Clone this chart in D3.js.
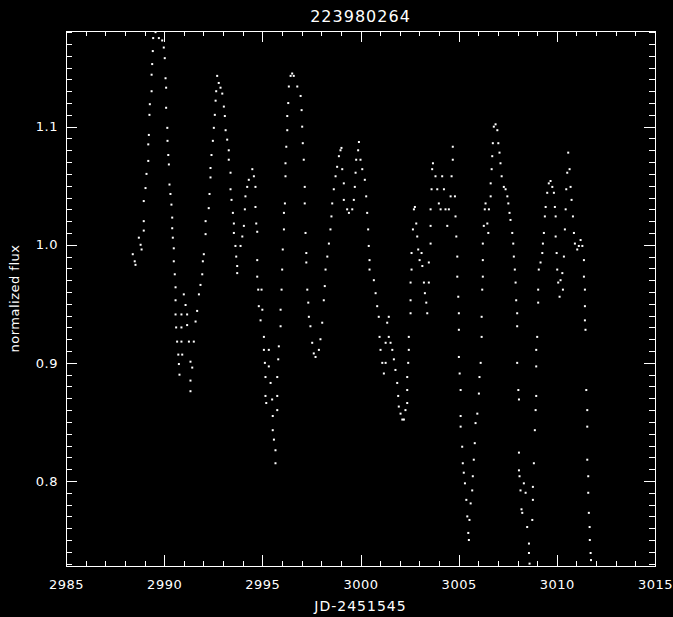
<!DOCTYPE html>
<html>
<head>
<meta charset="utf-8">
<script src="https://cdn.jsdelivr.net/npm/d3@7"></script>
<style>
  body { margin: 0; background: #000; }
  svg { display: block; }
  text { font-family: "DejaVu Sans", sans-serif; fill: #fff; }
</style>
</head>
<body>
<svg id="chart-area"></svg>
<script>
// light curve, split by cycles: [JD-2451545, normalized flux]
const seg1 = [[2988.40,0.992],[2988.50,0.986],[2988.54,0.983],[2988.71,1.006],[2988.80,1.000],[2988.85,0.996],[2988.96,1.012],[2988.96,1.020],[2988.96,1.037],[2989.05,1.048],[2989.10,1.060],[2989.19,1.071],[2989.19,1.085],[2989.22,1.093],[2989.25,1.110],[2989.27,1.119],[2989.36,1.130],[2989.36,1.144],[2989.39,1.153],[2989.42,1.164],[2989.44,1.175],[2989.56,1.180],[2989.73,1.175],[2989.90,1.173]]
const seg2 = [[2989.98,1.167],[2990.03,1.158],[2990.07,1.141],[2990.10,1.133],[2990.10,1.116],[2990.16,1.099],[2990.17,1.088],[2990.21,1.076],[2990.24,1.068],[2990.27,1.051],[2990.32,1.043],[2990.37,1.034],[2990.41,1.023],[2990.41,1.014],[2990.44,1.006],[2990.49,0.997],[2990.49,0.986],[2990.54,0.975],[2990.58,0.964],[2990.58,0.953],[2990.58,0.941],[2990.61,0.930],[2990.66,0.918],[2990.72,0.907],[2990.75,0.899],[2990.78,0.890],
  [2990.88,0.941],[2990.88,0.930],[2990.88,0.918],[2990.92,0.907],[2991.00,0.958],[2991.09,0.949],[2991.17,0.941],[2991.17,0.932],[2991.26,0.918],[2991.34,0.901],[2991.34,0.885],[2991.34,0.876]]
const seg3 = [[2991.43,0.896],[2991.51,0.918],[2991.60,0.935],[2991.68,0.944],[2991.77,0.958],[2991.85,0.966],[2991.94,0.975],[2991.97,0.986],[2992.02,0.992],[2992.11,1.009],[2992.11,1.020],[2992.27,1.031],[2992.31,1.043],[2992.36,1.057],[2992.36,1.065],[2992.41,1.076],[2992.48,1.088],[2992.53,1.099],[2992.58,1.110],[2992.62,1.122],[2992.65,1.130],[2992.70,1.143],[2992.78,1.137],[2992.87,1.133],[2992.96,1.128],[2993.04,1.117],[2993.09,1.109],[2993.13,1.097],[2993.21,1.089],[2993.29,1.080],[2993.29,1.072],[2993.38,1.061],[2993.38,1.047],[2993.43,1.038],[2993.50,1.027],[2993.55,1.018],[2993.55,1.010],[2993.63,0.999],[2993.67,0.990],[2993.72,0.982],[2993.72,0.976]]
const seg4 = [[2993.89,0.999],[2993.98,1.007],[2994.06,1.016],[2994.11,1.030],[2994.14,1.041],[2994.23,1.049],[2994.31,1.055],[2994.49,1.064],[2994.57,1.058],[2994.65,1.049],[2994.65,1.032],[2994.69,1.018],[2994.74,1.011],[2994.74,0.987],[2994.74,0.973],[2994.79,0.962],[2994.82,0.948],[2994.91,0.936],[2994.96,0.962],[2995.00,0.945],[2995.08,0.922],[2995.08,0.911],[2995.13,0.900],[2995.16,0.888],[2995.16,0.872],[2995.20,0.866],[2995.33,0.911],[2995.33,0.897],[2995.42,0.883],[2995.50,0.869],[2995.53,0.855],[2995.53,0.843],[2995.59,0.835],[2995.67,0.826],[2995.67,0.815]]
const seg5 = [[2995.76,0.860],[2995.76,0.872],[2995.76,0.888],[2995.81,0.903],[2995.84,0.914],[2995.93,0.931],[2995.93,0.945],[2995.98,0.962],[2996.01,0.979],[2996.04,0.996],[2996.10,1.013],[2996.10,1.027],[2996.15,1.035],[2996.18,1.058],[2996.18,1.069],[2996.22,1.083],[2996.27,1.097],[2996.27,1.109],[2996.32,1.120],[2996.35,1.134],[2996.44,1.143],[2996.52,1.145],[2996.60,1.143],[2996.78,1.134],
  [2996.95,1.126],[2997.00,1.114],[2997.03,1.100],[2997.06,1.086],[2997.11,1.072],[2997.16,1.049],[2997.16,1.035],[2997.20,1.010],[2997.24,0.993],[2997.24,0.985],[2997.29,0.962],[2997.34,0.951],[2997.37,0.939],[2997.45,0.931],[2997.54,0.917],[2997.62,0.908],[2997.71,0.905],[2997.88,0.911],[2997.96,0.920],[2998.05,0.934]]
const seg6 = [[2998.13,0.953],[2998.18,0.965],[2998.22,0.979],[2998.31,0.990],[2998.39,1.001],[2998.47,1.013],[2998.52,1.024],[2998.56,1.035],[2998.64,1.047],[2998.73,1.058],[2998.81,1.066],[2998.90,1.075],[2998.98,1.080],[2999.03,1.082],[2999.07,1.064],[2999.15,1.052],[2999.15,1.038],[2999.32,1.030],[2999.41,1.027],[2999.58,1.030],[2999.66,1.038],[2999.71,1.049],[2999.75,1.061],[2999.78,1.072],[2999.88,1.080],[2999.92,1.087],
  [3000.00,1.072],[3000.09,1.064],[3000.22,1.055],[3000.29,1.041],[3000.34,1.027],[3000.39,1.013],[3000.42,0.999],[3000.46,0.987],[3000.46,0.979],[3000.68,0.970],[3000.77,0.959],[3000.85,0.948],[3000.93,0.939],[3000.97,0.922],[3001.02,0.911],[3001.11,0.900],[3001.19,0.891],[3001.28,0.917],[3001.28,0.900],[3001.36,0.934],[3001.44,0.939],[3001.44,0.922],[3001.53,0.917],[3001.62,0.911],[3001.70,0.903],[3001.78,0.894],[3001.87,0.883],[3001.92,0.872],[3001.95,0.863],[3002.04,0.857],[3002.13,0.852],[3002.21,0.852],[3002.29,0.860],[3002.38,0.866]]
const seg7 = [[3002.38,0.877],[3002.38,0.888],[3002.43,0.900],[3002.46,0.911],[3002.46,0.922],[3002.55,0.942],[3002.55,0.953],[3002.55,0.968],[3002.60,0.979],[3002.60,0.993],[3002.67,1.013],[3002.72,1.030],[3002.77,1.032],[3002.84,1.018],[3002.89,1.007],[3002.94,0.996],[3003.01,0.987],[3003.11,0.993],[3003.15,0.982],[3003.23,0.968],[3003.28,0.959],[3003.35,0.951],[3003.40,0.942],[3003.48,0.968],[3003.48,0.985],[3003.57,1.001],[3003.57,1.016],[3003.57,1.030],[3003.62,1.047],[3003.65,1.064],[3003.69,1.069],[3003.82,1.058],[3003.91,1.047],[3003.99,1.035],[3004.08,1.030],[3004.16,1.058],[3004.25,1.047],[3004.33,1.030],[3004.42,1.016],[3004.50,1.030],[3004.59,1.041],[3004.64,1.058],[3004.70,1.072],[3004.70,1.083]]
const seg8 = [[3004.81,1.041],[3004.84,1.024],[3004.88,1.007],[3004.93,0.990],[3004.93,0.973],[3004.98,0.956],[3005.01,0.942],[3005.01,0.928],[3005.01,0.905],[3005.05,0.891],[3005.10,0.877],[3005.10,0.855],[3005.10,0.846],[3005.18,0.829],[3005.21,0.815],[3005.26,0.807],[3005.32,0.798],[3005.39,0.784],[3005.44,0.770],[3005.49,0.756],[3005.52,0.750],
  [3005.55,0.767],[3005.61,0.781],[3005.69,0.792],[3005.72,0.804],[3005.77,0.818],[3005.82,0.832],[3005.86,0.849],[3005.95,0.857],[3006.03,0.874],[3006.06,0.888],[3006.12,0.900],[3006.17,0.922],[3006.17,0.939],[3006.20,0.962],[3006.23,0.973],[3006.23,0.987],[3006.23,1.001],[3006.28,1.016],[3006.33,1.030],[3006.37,1.035],[3006.46,1.018],[3006.51,1.010],[3006.54,1.030],[3006.63,1.041],[3006.63,1.052],[3006.68,1.064],[3006.71,1.075],[3006.74,1.086],[3006.79,1.100],[3006.88,1.102]]
const seg9 = [[3006.97,1.097],[3007.02,1.086],[3007.08,1.078],[3007.13,1.069],[3007.19,1.058],[3007.30,1.049],[3007.39,1.047],[3007.48,1.041],[3007.53,1.035],[3007.59,1.027],[3007.64,1.021],[3007.73,1.010],[3007.78,1.001],[3007.81,0.990],[3007.86,0.979],[3007.90,0.968],[3007.93,0.953],[3007.98,0.942],[3007.98,0.931],[3007.98,0.900],[3008.04,0.877],[3008.07,0.869],[3008.07,0.824],[3008.07,0.809],[3008.10,0.804],[3008.15,0.792],[3008.20,0.776],[3008.24,0.773],[3008.32,0.798],[3008.41,0.790],[3008.49,0.761],[3008.58,0.747],[3008.58,0.739],[3008.61,0.730]]
const seg10 = [[3008.75,0.767],[3008.78,0.784],[3008.78,0.795],[3008.83,0.815],[3008.88,0.843],[3008.92,0.860],[3008.95,0.872],[3008.95,0.897],[3008.95,0.911],[3009.00,0.922],[3009.05,0.951],[3009.05,0.962],[3009.08,0.979],[3009.17,0.985],[3009.26,0.993],[3009.29,1.001],[3009.34,1.010],[3009.39,1.024],[3009.43,1.032],[3009.51,1.044],[3009.59,1.052],[3009.68,1.054],[3009.77,1.049],[3009.85,1.044],[3009.90,1.032],[3009.94,1.024],[3009.94,1.007],[3009.99,0.993],[3010.02,0.979],[3010.07,0.968],[3010.14,0.956],[3010.19,0.970],[3010.28,0.976],[3010.31,0.962],[3010.36,0.990],[3010.41,1.013],[3010.45,1.030],[3010.48,1.047],[3010.53,1.061],[3010.58,1.078],
  [3010.65,1.064],[3010.70,1.049],[3010.75,1.038],[3010.82,1.024],[3010.87,1.010],[3010.92,1.001],[3011.04,0.996],[3011.12,0.999],[3011.21,1.004],[3011.30,0.999],[3011.38,0.987],[3011.38,0.973],[3011.43,0.962],[3011.43,0.948],[3011.43,0.936],[3011.46,0.928],[3011.50,0.877],[3011.55,0.860],[3011.55,0.846],[3011.55,0.818],[3011.60,0.804],[3011.60,0.790],[3011.63,0.773],[3011.67,0.761],[3011.68,0.750],[3011.72,0.739],[3011.74,0.733]]

const xTicks = [2985, 2990, 2995, 3000, 3005, 3010, 3015]
const yTicks = [0.8, 0.9, 1.0, 1.1]
const xDomain = [2985, 3015]
const yDomain = [0.728, 1.181]
const title = "223980264"
const xLabel = "JD-2451545"
const yLabel = "normalized flux"

function drawChart() {
    const dataset = [].concat(seg1, seg2, seg3, seg4, seg5, seg6, seg7, seg8, seg9, seg10)
    const xAccessor = d => d[0]
    const yAccessor = d => d[1]

    const svgWidth = 673
    const svgHeight = 617
    const margin = { left: 66, right: 18, top: 31, bottom: 51 }
    const chartWidth = svgWidth - margin.left - margin.right
    const chartHeight = svgHeight - margin.top - margin.bottom

    const svg = d3.select("#chart-area")
        .attr("width", svgWidth)
        .attr("height", svgHeight)

    svg.append("rect")
        .attr("width", svgWidth).attr("height", svgHeight)
        .attr("fill", "#000")

    const chart = svg.append("g")
        .attr("transform", `translate(${margin.left},${margin.top})`)

    const xScale = d3.scaleLinear().domain(xDomain).range([0, chartWidth])
    const yScale = d3.scaleLinear().domain(yDomain).range([chartHeight, 0])

    const xMinor = d3.range(xDomain[0], xDomain[1] + 0.5, 1)
    const yMinor = d3.range(73, 119).map(v => v / 100)

    const styleAxis = g => {
        g.select(".domain").remove()
        g.selectAll("line").attr("stroke", "#fff").attr("shape-rendering", "crispEdges")
        g.selectAll("text").attr("fill", "#fff")
            .style("font-family", "DejaVu Sans, sans-serif")
            .style("font-size", "13px")
            .style("letter-spacing", "0.5px")
    }

    // bottom
    chart.append("g").attr("transform", `translate(0,${chartHeight})`)
        .call(d3.axisBottom(xScale).tickValues(xMinor).tickSize(-5).tickFormat(""))
        .call(styleAxis)
    chart.append("g").attr("transform", `translate(0,${chartHeight})`)
        .call(d3.axisBottom(xScale).tickValues(xTicks).tickSize(-11).tickPadding(14).tickFormat(d3.format("d")))
        .call(styleAxis)
    // top
    chart.append("g")
        .call(d3.axisTop(xScale).tickValues(xMinor).tickSize(-5).tickFormat(""))
        .call(styleAxis)
    chart.append("g")
        .call(d3.axisTop(xScale).tickValues(xTicks).tickSize(-11).tickFormat(""))
        .call(styleAxis)
    // left
    chart.append("g")
        .call(d3.axisLeft(yScale).tickValues(yMinor).tickSize(-6).tickFormat(""))
        .call(styleAxis)
    chart.append("g")
        .call(d3.axisLeft(yScale).tickValues(yTicks).tickSize(-11).tickPadding(8).tickFormat(d3.format(".1f")))
        .call(styleAxis)
    // right
    chart.append("g").attr("transform", `translate(${chartWidth},0)`)
        .call(d3.axisRight(yScale).tickValues(yMinor).tickSize(-6).tickFormat(""))
        .call(styleAxis)
    chart.append("g").attr("transform", `translate(${chartWidth},0)`)
        .call(d3.axisRight(yScale).tickValues(yTicks).tickSize(-11).tickFormat(""))
        .call(styleAxis)

    chart.append("rect")
        .attr("x", 0.5).attr("y", 0.5)
        .attr("width", chartWidth).attr("height", chartHeight)
        .attr("fill", "none")
        .attr("stroke", "#fff")
        .attr("shape-rendering", "crispEdges")

    chart.append("g").selectAll("rect")
        .data(dataset)
        .enter().append("rect")
        .attr("x", d => xScale(xAccessor(d)) - 1)
        .attr("y", d => yScale(yAccessor(d)) - 1)
        .attr("width", 2)
        .attr("height", 2)
        .attr("fill", "#fff")

    svg.append("text")
        .attr("x", margin.left + chartWidth / 2)
        .attr("y", 22)
        .attr("text-anchor", "middle")
        .style("font-size", "16px")
        .style("letter-spacing", "1px")
        .text(title)

    svg.append("text")
        .attr("x", margin.left + chartWidth / 2)
        .attr("y", 611)
        .attr("text-anchor", "middle")
        .style("font-size", "14px")
        .style("letter-spacing", "1px")
        .text(xLabel)

    svg.append("text")
        .attr("transform", `translate(19,${margin.top + chartHeight / 2}) rotate(-90)`)
        .attr("text-anchor", "middle")
        .style("font-size", "13px")
        .style("letter-spacing", "0.5px")
        .text(yLabel)
}

drawChart()
</script>
</body>
</html>
